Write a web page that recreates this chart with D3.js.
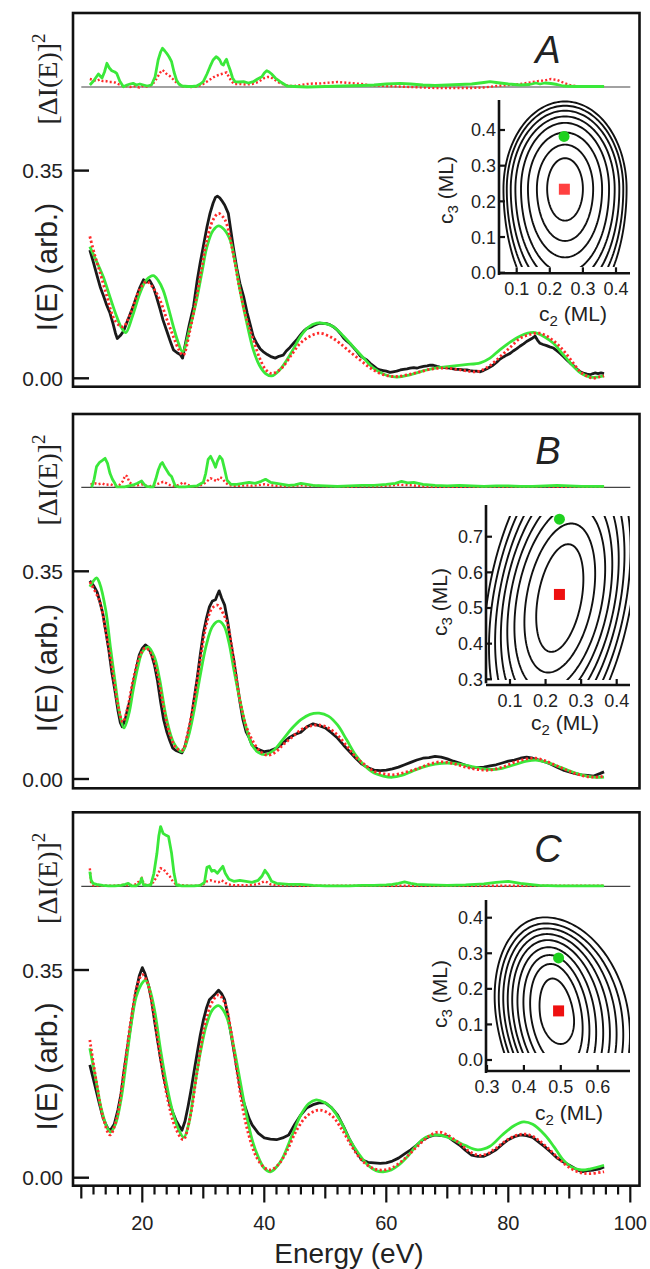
<!DOCTYPE html>
<html><head><meta charset="utf-8">
<script src="https://cdn.jsdelivr.net/npm/d3@7"></script>
<style>body{margin:0;background:#fff}svg{display:block}text{font-family:"Liberation Sans",Arial,sans-serif;fill:#222}</style>
</head><body><svg id="c" width="650" height="1269"></svg>
<script>
// ---------------- DATA ----------------
const xTicksMajor = [20,40,60,80,100];
const yTickValues = [0, 0.35];
const panelLabels = ["A","B","C"];

const A_exp = [[11.4,0.216],[12.0,0.195],[12.6,0.172],[13.1,0.154],[13.6,0.140],[14.1,0.125],[14.7,0.110],[15.2,0.092],[15.6,0.076],[15.9,0.067],[16.4,0.072],[16.9,0.079],[17.5,0.095],[18.0,0.108],[18.5,0.121],[19.0,0.136],[19.6,0.153],[20.2,0.166],[20.7,0.162],[21.2,0.165],[21.8,0.154],[22.3,0.138],[22.9,0.117],[23.4,0.098],[24.0,0.080],[24.6,0.062],[25.1,0.048],[25.7,0.043],[26.2,0.040],[26.6,0.034],[27.1,0.060],[27.7,0.090],[28.4,0.121],[29.0,0.165],[29.5,0.195],[30.0,0.222],[30.6,0.255],[31.1,0.278],[31.6,0.295],[32.0,0.305],[32.3,0.307],[32.7,0.304],[33.0,0.300],[33.5,0.292],[34.1,0.278],[34.5,0.250],[34.9,0.222],[35.5,0.185],[36.0,0.160],[36.6,0.138],[37.2,0.110],[37.7,0.090],[38.2,0.070],[38.8,0.058],[39.3,0.050],[39.8,0.045],[40.5,0.040],[41.2,0.036],[41.8,0.034],[42.4,0.037],[43.1,0.039],[43.6,0.046],[44.2,0.052],[44.8,0.059],[45.4,0.066],[46.0,0.074],[46.5,0.080],[47.0,0.084],[47.6,0.086],[48.1,0.089],[48.6,0.091],[49.1,0.093],[49.7,0.092],[50.2,0.092],[50.8,0.090],[51.3,0.087],[51.9,0.082],[52.5,0.075],[53.0,0.068],[53.5,0.063],[54.0,0.059],[54.6,0.052],[55.2,0.045],[55.7,0.038],[56.3,0.034],[56.8,0.031],[57.4,0.025],[58.0,0.020],[58.5,0.016],[59.0,0.014],[59.5,0.013],[60.0,0.012],[60.6,0.010],[61.1,0.011],[61.7,0.012],[62.3,0.014],[62.8,0.015],[63.4,0.016],[63.9,0.017],[64.5,0.018],[65.0,0.017],[65.6,0.019],[66.1,0.020],[66.7,0.021],[67.2,0.022],[67.7,0.022],[68.3,0.020],[68.8,0.019],[69.4,0.018],[69.9,0.018],[70.4,0.017],[71.0,0.016],[71.5,0.015],[72.1,0.015],[72.6,0.014],[73.2,0.014],[73.7,0.013],[74.3,0.012],[74.8,0.012],[75.4,0.011],[75.9,0.013],[76.5,0.016],[77.0,0.019],[77.5,0.022],[78.1,0.027],[78.6,0.032],[79.2,0.036],[79.7,0.039],[80.3,0.042],[80.8,0.046],[81.4,0.050],[81.9,0.054],[82.5,0.058],[83.0,0.062],[83.5,0.065],[84.0,0.068],[84.4,0.071],[84.8,0.064],[85.2,0.059],[85.7,0.057],[86.3,0.055],[86.8,0.053],[87.4,0.051],[87.9,0.047],[88.5,0.042],[89.0,0.037],[89.6,0.031],[90.1,0.026],[90.7,0.021],[91.2,0.016],[91.8,0.011],[92.3,0.009],[92.9,0.007],[93.4,0.006],[93.9,0.008],[94.2,0.009],[94.7,0.008],[95.2,0.009],[95.7,0.008]];
const A_fit1 = [[11.4,0.239],[12.2,0.208],[13.1,0.177],[14.2,0.138],[15.2,0.104],[16.1,0.090],[16.9,0.087],[17.7,0.100],[18.5,0.121],[19.6,0.150],[20.7,0.163],[21.8,0.152],[22.9,0.132],[24.0,0.100],[25.1,0.070],[26.0,0.048],[26.7,0.039],[27.8,0.080],[28.9,0.138],[29.8,0.190],[30.6,0.233],[31.6,0.267],[32.5,0.278],[33.3,0.271],[33.8,0.261],[35.0,0.205],[36.0,0.149],[37.1,0.100],[38.2,0.065],[39.2,0.035],[40.2,0.015],[41.2,0.008],[42.2,0.012],[43.1,0.020],[44.5,0.040],[45.9,0.059],[47.5,0.071],[49.1,0.076],[50.8,0.070],[52.4,0.059],[54.0,0.045],[55.7,0.031],[57.3,0.018],[59.0,0.008],[60.4,0.004],[61.7,0.003],[63.5,0.006],[65.5,0.011],[67.7,0.016],[69.9,0.017],[72.3,0.014],[74.8,0.011],[76.8,0.020],[78.6,0.036],[80.3,0.052],[81.9,0.067],[83.6,0.074],[85.2,0.076],[86.8,0.068],[88.5,0.053],[90.2,0.032],[91.8,0.011],[93.0,0.003],[93.9,0.0],[94.8,0.002],[95.7,0.004]];
const A_fit2 = [[11.4,0.222],[12.5,0.197],[13.6,0.171],[14.7,0.137],[15.8,0.104],[16.6,0.085],[17.3,0.077],[18.4,0.105],[19.6,0.143],[20.7,0.166],[21.8,0.173],[22.6,0.165],[23.4,0.149],[24.3,0.118],[25.1,0.087],[25.9,0.060],[26.6,0.045],[27.8,0.085],[28.9,0.132],[29.8,0.180],[30.6,0.222],[31.6,0.249],[32.5,0.257],[33.4,0.251],[34.4,0.233],[35.2,0.195],[36.0,0.149],[37.1,0.095],[38.2,0.048],[39.2,0.022],[40.2,0.008],[41.2,0.004],[42.5,0.014],[43.7,0.031],[44.8,0.050],[45.9,0.070],[47.2,0.086],[48.6,0.093],[50.0,0.092],[51.3,0.087],[53.0,0.071],[54.6,0.053],[56.3,0.034],[57.9,0.017],[59.8,0.006],[61.7,0.002],[64.0,0.006],[66.6,0.014],[68.5,0.018],[70.4,0.020],[73.0,0.023],[75.4,0.026],[77.0,0.034],[78.6,0.048],[80.3,0.061],[81.9,0.071],[83.2,0.076],[84.4,0.077],[85.9,0.070],[87.4,0.059],[89.0,0.040],[90.7,0.020],[92.0,0.008],[93.4,0.002],[94.6,0.002],[95.7,0.004]];
const A_dGreen = [[11.4,0.2],[12.0,0.6],[12.8,1.3],[13.4,0.9],[13.8,1.5],[14.2,2.37],[14.6,1.9],[15.0,1.63],[15.5,1.5],[15.8,1.37],[16.3,0.6],[16.9,0.03],[17.5,0.2],[18.0,0.3],[18.5,0.37],[19.0,0.2],[19.6,0.3],[20.2,0.2],[20.8,0.1],[21.5,0.2],[22.1,1.03],[22.6,2.7],[23.0,3.5],[23.3,3.87],[23.7,3.6],[24.0,3.37],[24.4,3.0],[24.8,2.53],[25.2,1.5],[25.6,0.7],[26.0,0.3],[26.5,0.1],[27.5,0.05],[28.2,0.05],[28.9,0.1],[29.5,0.3],[30.0,0.53],[30.6,1.3],[31.1,2.03],[31.6,2.7],[32.1,3.03],[32.4,2.9],[32.7,2.7],[33.0,2.3],[33.3,2.2],[33.6,2.6],[33.8,2.77],[34.1,2.2],[34.4,1.7],[34.8,0.9],[35.2,0.53],[35.8,0.5],[36.6,0.53],[37.4,0.4],[38.2,0.53],[38.9,0.8],[39.6,1.03],[40.0,1.4],[40.4,1.63],[40.8,1.5],[41.2,1.3],[41.8,0.9],[42.6,0.53],[43.2,0.3],[43.7,0.1],[45,0.05],[47,0.0],[50,0.05],[53,0.1],[56,0.15],[58,0.2],[60,0.3],[62.3,0.37],[64,0.3],[66,0.2],[68,0.15],[70,0.2],[72,0.25],[74,0.3],[76,0.45],[77,0.53],[78,0.45],[80,0.3],[82,0.2],[83.5,0.25],[84.5,0.4],[85.2,0.3],[86,0.4],[87,0.35],[88,0.25],[89,0.1],[91,0.05],[93,0.05],[95.7,0.05]];
const A_dRed = [[11.4,0.8],[12.0,0.7],[12.5,0.6],[13.0,0.75],[13.5,0.6],[14.0,0.6],[14.5,0.5],[15.0,0.5],[15.5,0.45],[16.0,0.3],[16.5,0.2],[17,0.05],[17.5,0.1],[18,0.0],[18.5,0.1],[19,0.05],[19.5,-0.05],[20,0.1],[20.5,0.0],[21,0.1],[21.5,0.2],[22,0.5],[22.5,1.0],[23.0,1.5],[23.3,1.7],[23.7,1.5],[24.0,1.3],[24.5,1.1],[25,0.8],[25.5,0.5],[26,0.3],[26.5,0.1],[27,0.05],[28,0.0],[29,0.05],[30,0.3],[30.5,0.5],[31,0.7],[31.5,0.9],[32,1.1],[32.5,1.2],[33,1.3],[33.5,1.4],[33.8,1.45],[34.2,1.0],[34.6,0.6],[35,0.3],[36,0.3],[37,0.25],[38,0.3],[39,0.5],[39.5,0.7],[40,0.9],[40.5,1.0],[41,1.0],[41.5,0.8],[42,0.6],[42.5,0.4],[43,0.3],[43.5,0.2],[44,0.1],[45,0.1],[46,0.2],[47,0.3],[48,0.35],[49,0.35],[50,0.4],[51,0.45],[52,0.5],[53,0.45],[54,0.4],[55,0.35],[56,0.3],[57,0.2],[58,0.15],[60,0.1],[62,0.05],[64,0.0],[66,-0.05],[68,-0.1],[70,-0.1],[72,-0.1],[74,-0.1],[76,-0.05],[78,0.1],[80,0.2],[82,0.3],[84,0.5],[85,0.6],[86,0.65],[87,0.8],[88,0.7],[89,0.45],[90,0.2],[91,0.1],[93,0.05],[95.7,0.05]];

const B_exp = [[11.4,0.334],[12.0,0.326],[12.6,0.315],[13.0,0.30],[13.5,0.28],[14.0,0.25],[14.5,0.218],[15.0,0.18],[15.5,0.15],[16.0,0.116],[16.4,0.095],[16.7,0.088],[17.2,0.10],[17.6,0.118],[18.0,0.133],[18.5,0.16],[19.0,0.185],[19.5,0.209],[20.0,0.22],[20.5,0.226],[21.0,0.222],[21.5,0.21],[22.0,0.192],[22.5,0.165],[23.0,0.13],[23.5,0.1],[24.0,0.08],[24.5,0.065],[25.0,0.052],[25.5,0.048],[26.0,0.046],[26.5,0.044],[27.0,0.055],[27.5,0.075],[28.0,0.1],[28.5,0.135],[29.0,0.17],[29.5,0.209],[30.0,0.245],[30.5,0.27],[31.0,0.29],[31.5,0.30],[32.0,0.302],[32.3,0.31],[32.6,0.317],[33.0,0.305],[33.5,0.293],[34.0,0.265],[34.5,0.23],[35.0,0.2],[35.5,0.165],[36.0,0.13],[36.5,0.1],[37.0,0.08],[37.5,0.07],[38.0,0.057],[39.0,0.05],[40.0,0.046],[41.0,0.048],[42.0,0.052],[43.0,0.06],[44.0,0.069],[45.0,0.075],[46.0,0.079],[47.0,0.088],[48.0,0.093],[49.0,0.09],[50.0,0.086],[51.0,0.078],[52.0,0.069],[53.0,0.057],[54.0,0.046],[55.0,0.035],[56.0,0.025],[57.0,0.019],[58.0,0.015],[59.0,0.014],[60.0,0.015],[61,0.017],[62,0.02],[63,0.024],[64,0.028],[65,0.032],[66,0.035],[67,0.036],[68,0.038],[69,0.037],[70,0.034],[71,0.03],[72,0.027],[73,0.023],[74,0.02],[75,0.019],[76,0.02],[77,0.022],[78,0.024],[79,0.027],[80,0.03],[81,0.032],[82,0.035],[83,0.037],[84,0.035],[85,0.032],[86,0.029],[87,0.025],[88,0.02],[89,0.015],[90,0.012],[91,0.009],[92,0.007],[93,0.006],[94,0.005],[95,0.009],[95.7,0.012]];
const B_fit1 = [[11.4,0.332],[13,0.3],[14,0.25],[15,0.19],[16,0.125],[16.8,0.096],[17.6,0.12],[18.5,0.167],[19.5,0.205],[20.5,0.221],[21.5,0.21],[22.5,0.175],[23.5,0.12],[24.5,0.075],[25.6,0.052],[26.6,0.049],[27.5,0.08],[28.5,0.133],[29.5,0.2],[30.5,0.26],[31.4,0.287],[32.3,0.293],[33.2,0.28],[34,0.26],[35,0.2],[36,0.133],[37,0.09],[38,0.066],[39.2,0.048],[40.5,0.04],[41.8,0.045],[43,0.057],[44.5,0.07],[46,0.083],[47.5,0.089],[49,0.091],[50.5,0.086],[52,0.074],[53.5,0.056],[55,0.037],[56.5,0.024],[58,0.013],[59.5,0.009],[61,0.007],[63,0.011],[65,0.017],[67,0.025],[69,0.029],[71,0.026],[73,0.02],[75,0.016],[77,0.015],[79,0.02],[81,0.028],[83,0.034],[84.5,0.035],[86,0.031],[88,0.022],[90,0.013],[92,0.006],[94,0.003],[95.7,0.005]];
const B_fit2 = [[11.4,0.324],[12.0,0.334],[12.5,0.339],[13.0,0.33],[14,0.285],[14.8,0.22],[15.5,0.167],[16.3,0.11],[17,0.086],[17.8,0.11],[18.5,0.15],[19.3,0.19],[20,0.214],[21,0.222],[22,0.205],[22.8,0.17],[24,0.1],[25.2,0.06],[26.5,0.046],[27.5,0.07],[28.5,0.116],[29.5,0.175],[30.5,0.226],[31.5,0.257],[32.5,0.266],[33.4,0.258],[34.2,0.23],[35,0.185],[36,0.133],[37,0.088],[38,0.057],[39,0.045],[40.2,0.041],[41.5,0.048],[43,0.066],[44.5,0.085],[46,0.1],[47.5,0.109],[49,0.111],[50.5,0.106],[52,0.091],[53.5,0.066],[55,0.04],[56.5,0.022],[58,0.01],[59.5,0.005],[61,0.003],[62.5,0.006],[64,0.012],[66,0.02],[68,0.025],[70,0.027],[72,0.025],[74,0.021],[76,0.017],[77.5,0.016],[79,0.018],[81,0.024],[83,0.03],[84.5,0.032],[86,0.029],[88,0.022],[90,0.014],[92,0.007],[94,0.003],[95.7,0.003]];
const B_dGreen = [[11.7,0.0],[12.1,0.8],[12.5,2.07],[13.0,2.5],[13.4,2.67],[13.9,2.9],[14.3,2.4],[14.7,1.4],[15.1,0.8],[15.5,0.4],[15.8,0.05],[16.5,0.05],[17.1,0.05],[17.8,0.15],[18.5,0.23],[19.2,0.4],[19.9,0.63],[20.3,0.3],[20.7,0.1],[21.3,0.05],[21.8,0.05],[22.2,0.8],[22.6,1.7],[23.0,2.3],[23.3,2.47],[23.7,2.0],[24.0,1.7],[24.4,1.3],[24.8,1.07],[25.4,0.13],[26,0.05],[27,0.05],[28,0.1],[29,0.15],[30,0.5],[30.4,1.4],[30.8,2.8],[31.2,3.1],[31.6,2.6],[32.0,2.0],[32.3,2.6],[32.7,3.1],[33.1,2.8],[33.5,1.8],[33.9,0.7],[34.5,0.3],[35.5,0.3],[36.5,0.4],[37.5,0.5],[38.5,0.4],[39.5,0.6],[40.2,0.8],[41,0.5],[42,0.4],[43,0.3],[44,0.2],[45,0.25],[46,0.4],[47,0.3],[48,0.2],[50,0.15],[52,0.1],[54,0.15],[56,0.2],[58,0.2],[60,0.3],[61.5,0.4],[62.5,0.6],[63.5,0.45],[64.5,0.5],[66,0.3],[68,0.2],[70,0.15],[72,0.2],[74,0.15],[76,0.1],[78,0.15],[80,0.15],[82,0.1],[84,0.1],[86,0.15],[88,0.2],[90,0.15],[92,0.1],[94,0.1],[95.7,0.1]];
const B_dRed = [[11.5,0.3],[12.2,0.4],[12.8,0.3],[13.4,0.4],[14,0.25],[14.8,0.3],[15.5,0.15],[16.2,0.2],[16.8,0.6],[17.2,1.2],[17.5,1.1],[17.9,0.5],[18.5,0.2],[19.2,0.2],[19.9,0.3],[20.5,0.15],[21.2,0.1],[22,0.2],[22.8,0.4],[23.4,0.55],[24,0.4],[24.6,0.2],[25.4,0.1],[26.2,0.3],[26.7,0.5],[27.2,0.3],[28,0.1],[29,0.1],[30,0.3],[30.6,0.6],[31.2,0.9],[31.6,0.8],[32.2,0.6],[32.7,1.0],[33.1,0.9],[33.6,0.5],[34.2,0.2],[35,0.15],[36,0.15],[37,0.2],[38,0.15],[39,0.2],[40,0.3],[41,0.2],[42,0.15],[44,0.1],[46,0.2],[48,0.15],[50,0.1],[52,0.1],[54,0.05],[56,0.1],[58,0.1],[60,0.15],[62,0.25],[64,0.2],[66,0.1],[68,0.05],[70,0.05],[72,0.05],[74,0.05],[76,0.05],[78,0.05],[80,0.05],[82,0.05],[84,0.05],[86,0.1],[88,0.05],[90,0.05],[92,0.05],[95.7,0.05]];

const C_exp = [[11.4,0.19],[12.0,0.165],[12.6,0.14],[13.0,0.123],[13.6,0.1],[14.1,0.088],[14.5,0.08],[14.9,0.082],[15.4,0.09],[16.0,0.114],[16.5,0.14],[17.0,0.18],[17.5,0.215],[18.0,0.25],[18.5,0.285],[19.0,0.316],[19.5,0.34],[20.0,0.354],[20.4,0.345],[21.0,0.325],[21.5,0.3],[22.0,0.265],[22.5,0.232],[23.0,0.2],[23.5,0.17],[24.0,0.148],[24.5,0.125],[25.0,0.11],[25.5,0.097],[26.0,0.088],[26.5,0.08],[27.0,0.095],[27.5,0.12],[28.0,0.148],[28.5,0.18],[29.0,0.21],[29.5,0.24],[30.0,0.265],[30.5,0.285],[31.0,0.3],[31.5,0.305],[32.0,0.31],[32.5,0.316],[33.0,0.31],[33.5,0.3],[34.0,0.275],[34.5,0.245],[35.0,0.215],[35.5,0.185],[36.0,0.155],[36.5,0.131],[37.0,0.115],[37.5,0.1],[38.0,0.089],[39.0,0.075],[40.0,0.067],[41.0,0.065],[42.0,0.064],[43.0,0.067],[44.0,0.072],[45.0,0.09],[46.0,0.106],[47.0,0.118],[48.0,0.123],[49.0,0.126],[50.0,0.126],[51.0,0.118],[52.0,0.106],[53.0,0.086],[54.0,0.064],[55.0,0.045],[56.0,0.03],[57.0,0.026],[58.0,0.025],[59,0.024],[60,0.025],[61,0.028],[62,0.033],[63,0.04],[64,0.047],[65,0.055],[66,0.064],[67,0.069],[68,0.072],[69,0.071],[70,0.07],[71,0.062],[72,0.055],[73,0.046],[74,0.038],[75,0.036],[76,0.036],[77,0.041],[78,0.047],[79,0.056],[80,0.064],[81,0.069],[82,0.072],[83,0.071],[84,0.068],[85,0.06],[86,0.052],[87,0.043],[88,0.033],[89,0.027],[90,0.021],[91,0.015],[92,0.01],[93,0.012],[94,0.013],[95,0.015],[95.7,0.018]];
const C_fit1 = [[11.4,0.232],[12.5,0.16],[13.6,0.1],[14.7,0.072],[15.8,0.1],[17,0.18],[18.2,0.27],[19.2,0.325],[20,0.342],[20.8,0.33],[21.8,0.28],[23,0.2],[24.2,0.13],[25.4,0.085],[26.7,0.064],[27.8,0.1],[29,0.18],[30.2,0.255],[31.4,0.295],[32.5,0.308],[33.5,0.295],[34.5,0.25],[35.5,0.18],[36.5,0.115],[37.5,0.07],[38.7,0.035],[40,0.017],[41,0.013],[42.3,0.022],[43.7,0.045],[45.3,0.08],[47,0.104],[49,0.114],[51,0.105],[52.8,0.08],[54.5,0.05],[56.2,0.027],[58,0.015],[59.5,0.013],[61,0.017],[63,0.032],[65,0.052],[67,0.07],[68.5,0.077],[70,0.072],[72,0.058],[73.5,0.045],[75,0.038],[76.5,0.04],[78,0.05],[80,0.065],[82,0.073],[83.5,0.072],[85,0.063],[87,0.045],[89,0.025],[90.5,0.014],[92,0.008],[93.5,0.007],[95.7,0.01]];
const C_fit2 = [[11.4,0.218],[12.3,0.17],[13.3,0.115],[14.2,0.085],[14.8,0.077],[15.6,0.09],[16.5,0.131],[17.3,0.19],[18.2,0.26],[19.0,0.305],[19.8,0.325],[20.5,0.333],[21.2,0.318],[22.0,0.283],[23.0,0.215],[24.0,0.156],[25.0,0.11],[26.0,0.08],[26.8,0.068],[27.6,0.09],[28.5,0.148],[29.5,0.21],[30.5,0.257],[31.5,0.283],[32.5,0.29],[33.3,0.282],[34.0,0.266],[35.0,0.22],[36.0,0.165],[37.0,0.11],[38.0,0.064],[39.0,0.035],[40.0,0.016],[41.0,0.01],[42.0,0.018],[43.0,0.033],[44.5,0.07],[46.0,0.106],[47.3,0.125],[48.5,0.131],[49.8,0.127],[51.0,0.118],[52.5,0.095],[54.0,0.064],[55.5,0.04],[57.0,0.021],[58.3,0.012],[59.5,0.01],[60.8,0.013],[62.0,0.021],[63.5,0.036],[65.0,0.055],[66.5,0.068],[68.0,0.072],[69.5,0.07],[71.0,0.064],[73.0,0.054],[75.0,0.047],[77.0,0.053],[79.0,0.072],[81.0,0.088],[82.5,0.094],[84.0,0.09],[86.0,0.072],[87.5,0.052],[89.0,0.03],[90.5,0.017],[92.0,0.013],[93.5,0.015],[95.7,0.021]];
const C_dGreen = [[11.4,1.47],[11.6,0.63],[11.9,0.3],[12.5,0.2],[13.5,0.1],[14.5,0.05],[15.5,0.05],[16.5,0.1],[17.2,0.2],[17.7,0.3],[18.2,0.05],[19.0,0.05],[19.6,0.3],[19.9,0.8],[20.2,0.13],[21.0,0.1],[21.4,0.15],[21.9,1.3],[22.4,3.3],[22.7,5.0],[23.0,5.97],[23.4,5.3],[23.9,5.1],[24.3,4.97],[24.8,3.3],[25.2,1.3],[25.6,0.13],[26.5,0.05],[27.5,0.05],[28.5,0.05],[29.5,0.1],[30.2,0.4],[30.6,1.9],[31.0,2.0],[31.4,1.5],[31.8,1.6],[32.3,1.3],[32.8,1.7],[33.2,2.0],[33.6,1.3],[34.2,0.7],[35,0.5],[36,0.6],[37,0.5],[38,0.4],[39,0.6],[39.6,1.0],[40.1,1.6],[40.6,1.2],[41.2,0.5],[42,0.3],[43,0.25],[44,0.2],[46,0.2],[48,0.1],[50,0.05],[52,0.05],[54,0.05],[56,0.1],[58,0.1],[60,0.15],[61,0.2],[62,0.3],[63,0.45],[64,0.3],[65,0.2],[67,0.15],[70,0.1],[73,0.15],[76,0.25],[78,0.4],[80,0.5],[82,0.3],[85,0.1],[88,0.05],[91,0.05],[95.7,0.05]];
const C_dRed = [[11.4,1.8],[11.6,0.4],[12,0.1],[13,0.05],[14,0.05],[15,0.05],[16,0.1],[17,0.15],[18,0.1],[19,0.2],[19.9,0.8],[20.3,0.2],[21,0.1],[21.8,0.4],[22.4,1.0],[23.0,1.8],[23.5,1.7],[24,1.3],[24.5,1.0],[25,0.5],[25.5,0.2],[26.5,0.1],[28,0.05],[29,0.05],[30,0.2],[30.6,0.5],[31.2,0.6],[31.8,0.5],[32.5,0.4],[33,0.6],[33.5,0.4],[34,0.2],[35,0.1],[37,0.1],[39,0.2],[40,0.5],[40.5,0.4],[41,0.2],[42,0.1],[44,0.1],[46,0.05],[50,0.05],[55,0.05],[60,0.05],[65,0.05],[70,0.05],[75,0.05],[80,0.05],[85,0.05],[90,0.05],[95.7,0.05]];

// inset (chi-square map) data: minimum (red), alternative (green), contour extents
const A_min = [0.244, 0.234], A_alt = [0.243, 0.382];
const A_rx  = [0.054, 0.085, 0.112, 0.133, 0.150, 0.164, 0.176, 0.186];
const A_top = [0.321, 0.359, 0.393, 0.420, 0.438, 0.454, 0.468, 0.480];
const A_bot = [0.146, 0.089, 0.043, 0.000, -0.03, -0.06, -0.09, -0.12];
const B_min = [0.239, 0.538], B_alt = [0.239, 0.749];
const B_rx  = [0.062, 0.094, 0.121, 0.140, 0.157, 0.172, 0.188, 0.203];
const B_ry  = [0.151, 0.209, 0.26, 0.30, 0.34, 0.38, 0.42, 0.46];
const C_min = [0.494, 0.138], C_alt = [0.494, 0.287];
const C_top = [0.229, 0.27, 0.295, 0.317, 0.337, 0.354, 0.37, 0.384, 0.401];
const C_bot = [0.045, -0.02, -0.05, -0.08, -0.1, -0.12, -0.14, -0.16, -0.18];
const C_rxL = [0.046, 0.071, 0.089, 0.105, 0.119, 0.131, 0.143, 0.155, 0.166];
const C_rxR = [0.045, 0.067, 0.085, 0.103, 0.122, 0.14, 0.158, 0.176, 0.194];

// ---------------- DRAW ----------------
const svg = d3.select("#c");
const FL = 73, FR = 639.5;
const GREEN = "#3ae83a", RED = "#ff2a2a", BLACK = "#1a1a1a";
const x = d3.scaleLinear().domain([20, 100]).range([142.3, 630.3]);

const panels = [
  {label:"A", top:13, bottom:386.7, y0:378.3, base:87, exp:A_exp, f1:A_fit1, f2:A_fit2, dR:A_dRed, dG:A_dGreen},
  {label:"B", top:414, bottom:788.3, y0:779, base:487.3, exp:B_exp, f1:B_fit1, f2:B_fit2, dR:B_dRed, dG:B_dGreen},
  {label:"C", top:812.3, bottom:1185.7, y0:1177.7, base:886.3, exp:C_exp, f1:C_fit1, f2:C_fit2, dR:C_dRed, dG:C_dGreen}
];

panels.forEach((p, i) => {
  const g = svg.append("g");
  const y = d3.scaleLinear().domain([0, 0.35]).range([p.y0, p.y0 - 207.7]);
  const dy = d3.scaleLinear().domain([0, 1]).range([p.base, p.base - 10]);

  // difference curves
  g.append("line").attr("x1", x(10)).attr("x2", x(100)).attr("y1", p.base).attr("y2", p.base)
    .attr("stroke", "#444").attr("stroke-width", 1.2);
  const dl = d3.line().x(d => x(d[0])).y(d => dy(d[1])).curve(d3.curveLinear);
  g.append("path").attr("d", dl(p.dR)).attr("fill","none").attr("stroke", RED).attr("stroke-width", 2.4).attr("stroke-dasharray","2,2.2");
  g.append("path").attr("d", dl(p.dG)).attr("fill","none").attr("stroke", GREEN).attr("stroke-width", 2.8).attr("stroke-linejoin","round");

  // spectra
  const le = d3.line().x(d => x(d[0])).y(d => y(d[1])).curve(d3.curveLinear);
  const lf = d3.line().x(d => x(d[0])).y(d => y(d[1])).curve(d3.curveCatmullRom.alpha(0.5));
  g.append("path").attr("d", le(p.exp)).attr("fill","none").attr("stroke", BLACK).attr("stroke-width", 2.8).attr("stroke-linejoin","round");
  g.append("path").attr("d", lf(p.f2)).attr("fill","none").attr("stroke", GREEN).attr("stroke-width", 2.8);
  g.append("path").attr("d", lf(p.f1)).attr("fill","none").attr("stroke", RED).attr("stroke-width", 2.8).attr("stroke-dasharray","2.2,2.4");

  // frame
  g.append("rect").attr("x", FL).attr("y", p.top).attr("width", FR - FL).attr("height", p.bottom - p.top)
    .attr("fill","none").attr("stroke","#111").attr("stroke-width", 2.6);

  // y ticks
  yTickValues.forEach(v => {
    g.append("line").attr("x1", FL).attr("x2", FL + 16).attr("y1", y(v)).attr("y2", y(v)).attr("stroke","#111").attr("stroke-width", 2.4);
    g.append("text").attr("x", 63).attr("y", y(v)).attr("dy","0.36em").attr("text-anchor","end")
      .attr("font-size", 21).text(d3.format(".2f")(v));
  });

  // axis titles
  const t1 = g.append("text").attr("transform", `translate(57,${p.top + 66}) rotate(-90)`)
    .attr("text-anchor","middle").style("font-family","'Liberation Serif','Times New Roman',serif").attr("font-size", 28);
  t1.append("tspan").text("[ΔI(E)]");
  t1.append("tspan").attr("dy", -12).attr("font-size", 19).text("2");
  g.append("text").attr("transform", `translate(57,${p.top + 254}) rotate(-90)`)
    .attr("text-anchor","middle").attr("font-size", 30).text("I(E) (arb.)");

  // panel label
  g.append("text").attr("x", 548).attr("y", p.top + 50).attr("text-anchor","middle")
    .attr("font-size", 38).attr("font-style","italic").text(panelLabels[i]);
});

// bottom energy axis
const axG = svg.append("g");
d3.range(10, 101, 2).forEach(v => {
  const len = v % 20 === 0 ? 16 : (v % 10 === 0 ? 12 : 8);
  axG.append("line").attr("x1", x(v)).attr("x2", x(v)).attr("y1", 1186.5).attr("y2", 1186.5 + len)
    .attr("stroke","#111").attr("stroke-width", 2.2);
});
xTicksMajor.forEach(v => {
  axG.append("text").attr("x", x(v)).attr("y", 1230).attr("text-anchor","middle").attr("font-size", 20).text(v);
});
axG.append("text").attr("x", 349).attr("y", 1263).attr("text-anchor","middle").attr("font-size", 28).text("Energy (eV)");

// ---------------- INSETS ----------------
function shape(cx, cy, rxL, rxR, ryT, ryB, shear) {
  const pts = [];
  for (let k = 0; k < 180; k++) {
    const t = k / 180 * 2 * Math.PI;
    const c = Math.cos(t), s = Math.sin(t);
    const yy = cy + (s >= 0 ? ryT : ryB) * s;
    const xx = cx + (c >= 0 ? rxR : rxL) * c + shear * (yy - cy);
    pts.push([xx, yy]);
  }
  return pts;
}

function drawInset(cfg, id) {
  const g = svg.append("g");
  const xs = cfg.xs, ys = cfg.ys;
  g.append("clipPath").attr("id", id).append("rect")
    .attr("x", cfg.clip[0]).attr("y", cfg.clip[1]).attr("width", cfg.clip[2] - cfg.clip[0]).attr("height", cfg.clip[3] - cfg.clip[1]);
  const cg = g.append("g").attr("clip-path", `url(#${id})`);
  const ln = d3.line().x(d => xs(d[0])).y(d => ys(d[1])).curve(d3.curveLinearClosed);
  cfg.contours.forEach(c => {
    cg.append("path").attr("d", ln(shape(c.cx, c.cy, c.rxL, c.rxR, c.ryT, c.ryB, c.shear)))
      .attr("fill","none").attr("stroke","#111").attr("stroke-width", 1.9);
  });
  // axes
  g.append("line").attr("x1", cfg.ax).attr("x2", cfg.ax).attr("y1", cfg.ay0).attr("y2", cfg.ay1).attr("stroke","#111").attr("stroke-width", 2.6);
  g.append("line").attr("x1", cfg.ax).attr("x2", cfg.bx1).attr("y1", cfg.by).attr("y2", cfg.by).attr("stroke","#111").attr("stroke-width", 2.6);
  cfg.yTicks.forEach(v => {
    g.append("line").attr("x1", cfg.ax).attr("x2", cfg.ax + 6).attr("y1", ys(v)).attr("y2", ys(v)).attr("stroke","#111").attr("stroke-width", 2.2);
    g.append("text").attr("x", cfg.ax - 3).attr("y", ys(v)).attr("dy","0.36em").attr("text-anchor","end").attr("font-size", 18).text(d3.format(".1f")(v));
  });
  cfg.xTicks.forEach(v => {
    g.append("line").attr("x1", xs(v)).attr("x2", xs(v)).attr("y1", cfg.by).attr("y2", cfg.by - 6).attr("stroke","#111").attr("stroke-width", 2.2);
    g.append("text").attr("x", xs(v)).attr("y", cfg.by + 22).attr("text-anchor","middle").attr("font-size", 18).text(d3.format(".1f")(v));
  });
  const xl = g.append("text").attr("x", cfg.xlab[0]).attr("y", cfg.xlab[1]).attr("text-anchor","middle").attr("font-size", 21);
  xl.append("tspan").text("c");
  xl.append("tspan").attr("font-size", 15).attr("dy", 5).text("2");
  xl.append("tspan").attr("dy", -5).text(" (ML)");
  const yl = g.append("text").attr("transform", `translate(${cfg.ylab[0]},${cfg.ylab[1]}) rotate(-90)`).attr("text-anchor","middle").attr("font-size", 21);
  yl.append("tspan").text("c");
  yl.append("tspan").attr("font-size", 15).attr("dy", 5).text("3");
  yl.append("tspan").attr("dy", -5).text(" (ML)");
  // markers
  g.append("rect").attr("x", xs(cfg.min[0]) - 5.5).attr("y", ys(cfg.min[1]) - 5.5).attr("width", 11).attr("height", 11).attr("fill", cfg.minColor);
  g.append("circle").attr("cx", xs(cfg.alt[0])).attr("cy", ys(cfg.alt[1])).attr("r", 5.5).attr("fill", "#1fd11f");
}

drawInset({
  xs: d3.scaleLinear().domain([0.1, 0.4]).range([516.7, 616]),
  ys: d3.scaleLinear().domain([0, 0.4]).range([272.7, 130]),
  ax: 499, ay0: 275, ay1: 100, by: 273.3, bx1: 630,
  clip: [499, 100, 630, 267],
  xTicks: [0.1, 0.2, 0.3, 0.4], yTicks: [0, 0.1, 0.2, 0.3, 0.4],
  contours: A_rx.map((r, k) => ({cx: 0.246, cy: 0.235, rxL: r, rxR: r, ryT: A_top[k] - 0.235, ryB: 0.235 - A_bot[k], shear: 0})),
  min: A_min, alt: A_alt, minColor: "#ff4040",
  xlab: [573, 321], ylab: [453, 190]
}, "clipA");

drawInset({
  xs: d3.scaleLinear().domain([0.1, 0.4]).range([510, 616.7]),
  ys: d3.scaleLinear().domain([0.3, 0.7]).range([679.3, 536.7]),
  ax: 486, ay0: 683.3, ay1: 505, by: 685, bx1: 630,
  clip: [486, 516, 630, 680],
  xTicks: [0.1, 0.2, 0.3, 0.4], yTicks: [0.3, 0.4, 0.5, 0.6, 0.7],
  contours: B_rx.map((r, k) => ({cx: 0.24, cy: 0.528, rxL: r, rxR: r, ryT: B_ry[k], ryB: B_ry[k], shear: 0.156})),
  min: B_min, alt: B_alt, minColor: "#ee1010",
  xlab: [565, 730], ylab: [447, 602]
}, "clipB");

drawInset({
  xs: d3.scaleLinear().domain([0.3, 0.6]).range([487, 597.7]),
  ys: d3.scaleLinear().domain([0, 0.4]).range([1060, 917.7]),
  ax: 486, ay0: 1073, ay1: 900, by: 1071, bx1: 630,
  clip: [486, 916, 630, 1052.9],
  xTicks: [0.3, 0.4, 0.5, 0.6], yTicks: [0, 0.1, 0.2, 0.3, 0.4],
  contours: C_top.map((t, k) => ({cx: 0.49, cy: 0.125, rxL: C_rxL[k], rxR: C_rxR[k], ryT: t - 0.125, ryB: 0.125 - C_bot[k], shear: -0.12})),
  min: C_min, alt: C_alt, minColor: "#ee1010",
  xlab: [569, 1120], ylab: [447, 994]
}, "clipC");
</script></body></html>
